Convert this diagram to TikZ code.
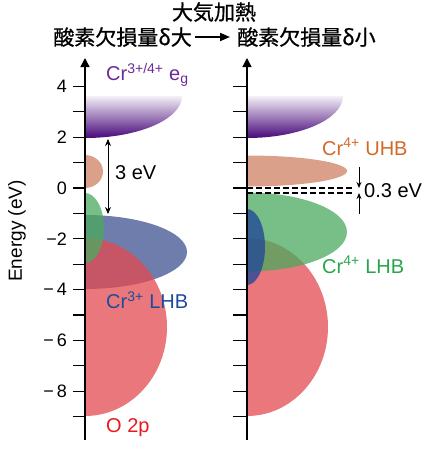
\documentclass[tikz,border=0pt]{standalone}
\usepackage{fontspec}
\setmainfont{Liberation Sans}
\newfontfamily\cjk[FakeBold=0.8]{Noto Sans CJK JP}
\usetikzlibrary{arrows.meta}
\definecolor{egpurple}{RGB}{72,8,122}
\definecolor{egtext}{RGB}{107,42,155}
\definecolor{uhbfill}{RGB}{205,128,98}
\definecolor{uhbtext}{RGB}{210,105,40}
\definecolor{grnfill}{RGB}{74,170,94}
\definecolor{grntext}{RGB}{40,165,75}
\definecolor{blufill}{RGB}{63,81,146}
\definecolor{bluright}{RGB}{35,75,150}
\definecolor{blutext}{RGB}{30,75,155}
\definecolor{redfill}{RGB}{227,74,79}
\definecolor{redtext}{RGB}{232,25,30}
\tikzset{
  band/.style={fill opacity=0.75},
  egshade/.style={top color=egpurple!6, middle color=egpurple!55, bottom color=egpurple},
  lbl/.style={font=\fontsize{20}{24}\selectfont, inner sep=0pt, anchor=west},
  ticklbl/.style={font=\fontsize{18}{22}\selectfont, inner sep=0pt, anchor=east},
  titlefont/.style={font=\cjk\fontsize{21}{25}\selectfont, inner sep=0pt},
  axisline/.style={line width=1.3pt, -{Triangle[length=9pt,width=9pt]}},
  tickline/.style={line width=1.3pt},
  gaparrow/.style={line width=1pt, {Stealth[length=7pt,width=6pt]}-{Stealth[length=7pt,width=6pt]}},
  smallarrow/.style={line width=1pt, -{Stealth[length=6pt,width=5pt]}},
  dashline/.style={line width=1.2pt, dash pattern=on 6pt off 3pt},
}
\begin{document}
\begin{tikzpicture}[x=1pt,y=-1pt]
\useasboundingbox (0,0) rectangle (429,450);

% ---------- title ----------
\node[titlefont] (t1) at (214,12) {大気加熱};
\node[titlefont, anchor=east] (t2) at (192,37) {酸素欠損量\textit{δ}大};
\node[titlefont, anchor=west] (t3) at (237,37) {酸素欠損量\textit{δ}小};
\draw[line width=1.8pt, -{Triangle[length=10pt,width=8pt]}] ([xshift=3pt]t2.east) -- ([xshift=-7pt]t3.west);

% ---------- left panel bands ----------
\begin{scope}
\clip (85,0) rectangle (429,450);
\fill[blufill, band] (85,252) ellipse [x radius=102pt, y radius=37pt];
\fill[redfill, band] (85,327) ellipse [x radius=82pt, y radius=89pt];
\fill[grnfill, band] (85,228) ellipse [x radius=19pt, y radius=35pt];
\fill[uhbfill, band] (85,171.5) ellipse [x radius=18pt, y radius=16.5pt];
\end{scope}
\shade[egshade] (182,96) .. controls (182,119.2) and (138.5,138) .. (85,138) -- (85,96) -- cycle;

% ---------- right panel bands ----------
\begin{scope}
\clip (247,0) rectangle (429,450);
\fill[redfill, band] (247,327) ellipse [x radius=81pt, y radius=89pt];
\fill[grnfill, band] (247,232) ellipse [x radius=100pt, y radius=39.5pt];
\fill[bluright, fill opacity=0.8] (247,247) ellipse [x radius=18pt, y radius=38pt];
\fill[uhbfill, band] (247,171) ellipse [x radius=100pt, y radius=15.5pt];
\end{scope}
\shade[egshade] (343,96) .. controls (343,119.2) and (300,138) .. (247,138) -- (247,96) -- cycle;

% ---------- axes ----------
\coordinate (lbot) at (85,440);
\coordinate (ltop) at (85,58);
\coordinate (rbot) at (247,440);
\coordinate (rtop) at (247,58);
\draw[axisline] (lbot) -- (ltop);
\draw[axisline] (rbot) -- (rtop);
\foreach \e in {4,3,...,-9}{
  \draw[tickline] (73,{188-25.4*\e}) -- (85,{188-25.4*\e});
  \draw[tickline] (233,{188-25.4*\e}) -- (247,{188-25.4*\e});
}
\node[ticklbl] (l4) at (67,{188-25.4*4}) {4};
\node[ticklbl] (l2) at (67,{188-25.4*2}) {2};
\node[ticklbl] (l0) at (67,188) {0};
\node[ticklbl] (lm2) at (67,{188+25.4*2}) {−2};
\node[ticklbl] (lm4) at (67,{188+25.4*4}) {−\kern3pt4};
\node[ticklbl] (lm6) at (67,{188+25.4*6}) {−\kern3pt6};
\node[ticklbl] (lm8) at (67,{188+25.4*8}) {−\kern3pt8};
\node[rotate=90, font=\fontsize{19}{22}\selectfont, inner sep=0pt] (elabel) at (17,231) {Energy (eV)};

% ---------- left annotations ----------
\coordinate (g1) at (108,139);
\coordinate (g2) at (108,214);
\draw[gaparrow] (g1) -- (g2);
\node[lbl] (gap) at (115,173) {3 eV};
\node[lbl, text=egtext] (eg) at (106,75) {Cr\textsuperscript{3+/4+} e\textsubscript{g}};
\node[lbl, text=blutext] (lhb3) at (106,300) {Cr\textsuperscript{3+} LHB};
\node[lbl, text=redtext] (o2p) at (106,428) {O 2p};

% ---------- right annotations ----------
\coordinate (d1a) at (247,188);
\coordinate (d1b) at (353,188);
\coordinate (d2a) at (247,193);
\coordinate (d2b) at (353,193);
\draw[dashline] (d1a) -- (d1b);
\draw[dashline] (d2a) -- (d2b);
\coordinate (s1) at (359,167);
\coordinate (s1e) at (359,188);
\coordinate (s2) at (359,214);
\coordinate (s2e) at (359,193);
\draw[smallarrow] (s1) -- (s1e);
\draw[smallarrow] (s2) -- (s2e);
\node[lbl] (small) at (364,190.5) {0.3 eV};
\node[lbl, text=uhbtext] (uhb4) at (322,147) {Cr\textsuperscript{4+} UHB};
\node[lbl, text=grntext] (lhb4) at (322,265) {Cr\textsuperscript{4+} LHB};
\end{tikzpicture}
\end{document}
